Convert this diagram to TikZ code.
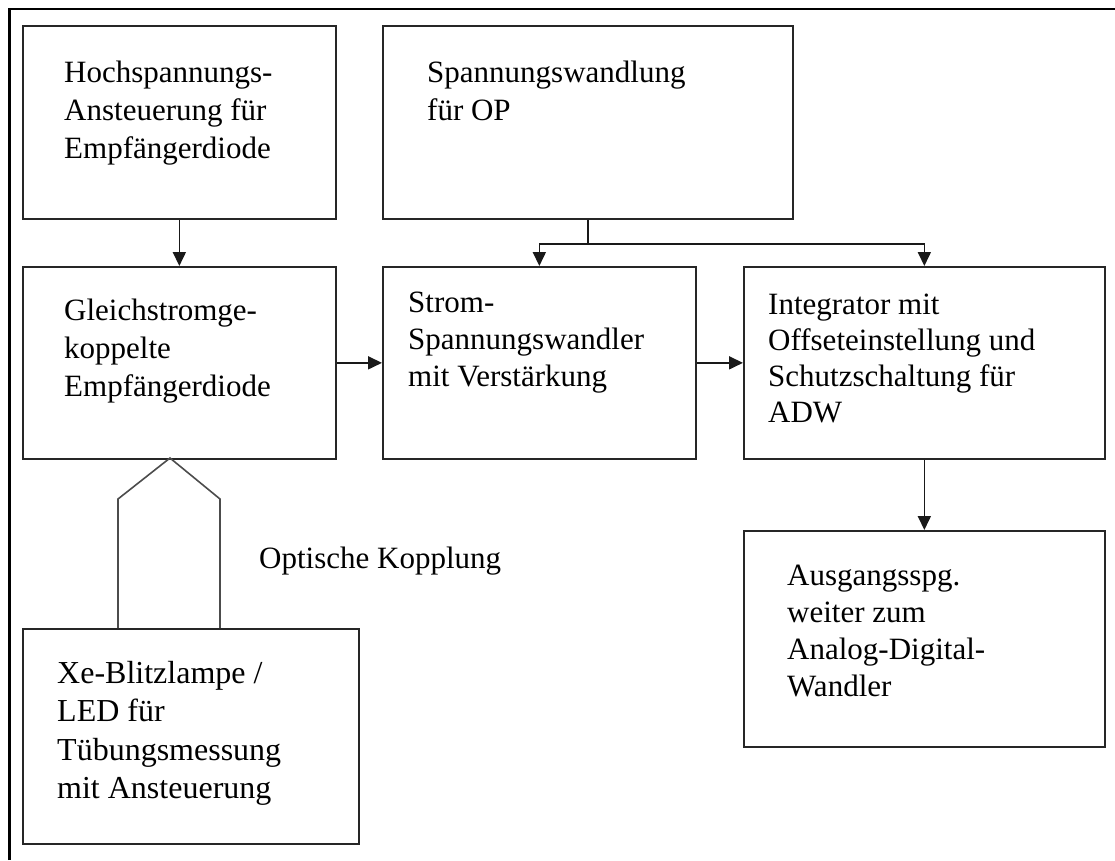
\documentclass[tikz,border=0pt]{standalone}
\usepackage{fontspec}
\setmainfont{Liberation Serif}
\usetikzlibrary{arrows.meta}
\tikzset{
  blk/.style={draw=black!85, line width=1.7pt, rectangle, inner sep=0pt, anchor=north west},
  lbl/.style={inner sep=0pt, anchor=north west, align=left,
     font=\fontsize{31}{38}\selectfont, execute at begin node=\strut},
  conn/.style={draw=black!90, line width=1.7pt},
  arr/.style={conn, -{Triangle[length=14pt,width=13pt]}},
  optic/.style={draw=black!70, line width=1.6pt}
}
\begin{document}
\begin{tikzpicture}[x=1pt,y=-1pt]
\useasboundingbox (0,0) rectangle (1115,860);
\fill[white] (0,0) rectangle (1115,860);
% outer frame (top and left only)
\draw[line width=2.8pt, black] (9.5,860) -- (9.5,9) -- (1115,9);

% boxes
\node[blk, minimum width=313pt, minimum height=193pt] (A) at (22,25) {};
\node[blk, minimum width=410pt, minimum height=193pt] (B) at (382,25) {};
\node[blk, minimum width=313pt, minimum height=192pt] (C) at (22,266) {};
\node[blk, minimum width=313pt, minimum height=192pt] (D) at (382,266) {};
\node[blk, minimum width=361pt, minimum height=192pt] (E) at (743,266) {};
\node[blk, minimum width=361pt, minimum height=216pt] (F) at (743,530) {};
\node[blk, minimum width=336pt, minimum height=215pt] (G) at (22,628) {};

% texts
\node[lbl] (At) at (64,{87-26.6}) {Hochspannungs-\\Ansteuerung für\\Empfängerdiode};
\node[lbl] (Bt) at (427,{87-26.6}) {Spannungswandlung\\für OP};
\node[lbl] (Ct) at (64,{325-26.6}) {Gleichstromge-\\koppelte\\Empfängerdiode};
\node[lbl, font=\fontsize{31}{37}\selectfont] (Dt) at (408,{318-25.9}) {Strom-\\Spannungswandler\\mit Verstärkung};
\node[lbl, font=\fontsize{31}{36}\selectfont] (Et) at (768,{319-25.2}) {Integrator mit\\Offseteinstellung und\\Schutzschaltung für\\ADW};
\node[lbl, font=\fontsize{31}{37}\selectfont] (Ft) at (787,{591-25.9}) {Ausgangsspg.\\weiter zum\\Analog-Digital-\\Wandler};
\node[lbl, font=\fontsize{32}{38.5}\selectfont] (Gt) at (57,{688-26.95}) {Xe-Blitzlampe /\\LED für\\Tübungsmessung\\mit Ansteuerung};
\node[lbl, execute at begin node={}, anchor=base west] (Ot) at (259,568) {Optische Kopplung};

% connectors
\draw[arr] (A.south) -- (C.north);
\coordinate (bus) at ([yshift=-24pt]B.south);
\draw[conn] (B.south) -- (bus);
\draw[arr] (bus) -- (bus -| D.north) -- (D.north);
\draw[arr] (bus) -- (bus -| E.north) -- (E.north);
\draw[arr] (C.east) -- (D.west);
\draw[arr] (D.east) -- (E.west);
\draw[arr] (E.south) -- (F.north);

% optical coupling pentagon
\coordinate (p1) at (118,628);
\coordinate (p2) at (118,499);
\coordinate (p3) at (170,458);
\coordinate (p4) at (220,499);
\coordinate (p5) at (220,628);
\draw[optic] (p1) -- (p2) -- (p3) -- (p4) -- (p5);
\end{tikzpicture}
\end{document}
